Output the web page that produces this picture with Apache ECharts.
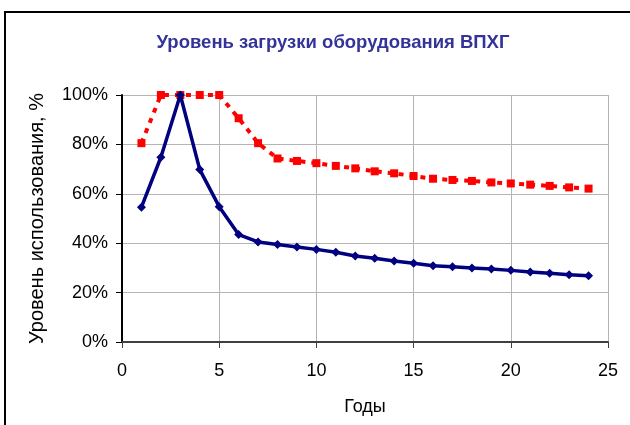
<!DOCTYPE html>
<html>
<head>
<meta charset="utf-8">
<script src="https://cdn.jsdelivr.net/npm/echarts@6/dist/echarts.min.js"></script>
<style>
  html, body { margin: 0; padding: 0; background: #fff; }
  #chart { width: 630px; height: 425px; }
</style>
</head>
<body>
<div id="chart"></div>
<script>
// Years of operation
const years = [1, 2, 3, 4, 5, 6, 7, 8, 9, 10, 11, 12, 13, 14, 15, 16, 17, 18, 19, 20, 21, 22, 23, 24];

// Equipment utilisation, % (solid navy line)
const loadActual = [54.6, 74.8, 100, 69.8, 54.8, 43.5, 40.5, 39.5, 38.5, 37.5, 36.3, 34.8, 33.9, 32.8, 31.9, 30.9, 30.5, 30.0, 29.6, 29.0, 28.3, 27.8, 27.2, 26.8];

// Equipment utilisation, % (dashed red line)
const loadUpper = [80.5, 100, 100, 100, 100, 90.6, 80.5, 74.3, 73.3, 72.4, 71.3, 70.3, 69.1, 68.3, 67.2, 66.1, 65.6, 65.2, 64.6, 64.2, 63.7, 63.2, 62.6, 62.1];

// Axis ticks
const xTicks = [0, 5, 10, 15, 20, 25];
const yTicks = [0, 20, 40, 60, 80, 100];

const FONT = '"Liberation Sans", Arial, sans-serif';

const chart = echarts.init(document.getElementById('chart'), null, { renderer: 'canvas' });

const pairs = (xs, ys) => xs.map((x, i) => [x, ys[i]]);

chart.setOption({
  backgroundColor: '#ffffff',
  animation: false,
  title: {
    text: 'Уровень загрузки оборудования ВПХГ',
    left: 328,
    top: 28,
    textAlign: 'center',
    textStyle: { fontFamily: FONT, fontSize: 18.5, fontWeight: 'bold', color: '#333399' }
  },
  graphic: [{
    type: 'rect',
    shape: { x: 5, y: 12, width: 700, height: 500 },
    style: { fill: 'none', stroke: '#000', lineWidth: 2 },
    z: 100
  }],
  grid: { left: 122, right: 22, top: 95, bottom: 83, containLabel: false },
  xAxis: {
    type: 'value',
    min: xTicks[0],
    max: xTicks[xTicks.length - 1],
    interval: 5,
    name: 'Годы',
    nameLocation: 'middle',
    nameGap: 56,
    nameTextStyle: { fontFamily: FONT, fontSize: 18, color: '#000' },
    axisLine: { show: true, lineStyle: { color: '#404040', width: 2 } },
    axisTick: { show: true, length: 6, lineStyle: { color: '#404040', width: 1 } },
    axisLabel: { fontFamily: FONT, fontSize: 18, color: '#000', margin: 20 },
    splitLine: { show: true, lineStyle: { color: '#b4b4b4', width: 1 } }
  },
  yAxis: {
    type: 'value',
    min: yTicks[0],
    max: yTicks[yTicks.length - 1],
    interval: 20,
    name: 'Уровень использования, %',
    nameLocation: 'middle',
    nameGap: 75,
    nameRotate: 90,
    nameTextStyle: { fontFamily: FONT, fontSize: 20, color: '#000' },
    axisLine: { show: true, lineStyle: { color: '#000', width: 2 } },
    axisTick: { show: true, length: 6, lineStyle: { color: '#000', width: 1 } },
    axisLabel: { fontFamily: FONT, fontSize: 18, color: '#000', margin: 14, formatter: '{value}%' },
    splitLine: { show: true, lineStyle: { color: '#b4b4b4', width: 1 } }
  },
  series: [
    {
      name: 'upper',
      type: 'line',
      data: pairs(years, loadUpper),
      symbol: 'rect',
      symbolSize: 8,
      itemStyle: { color: '#ff0000' },
      lineStyle: { color: '#ff0000', width: 4, type: [5, 6] },
      z: 2
    },
    {
      name: 'actual',
      type: 'line',
      data: pairs(years, loadActual),
      symbol: 'diamond',
      symbolSize: 9,
      itemStyle: { color: '#000080' },
      lineStyle: { color: '#000080', width: 3.5 },
      z: 3
    }
  ]
});
</script>
</body>
</html>
